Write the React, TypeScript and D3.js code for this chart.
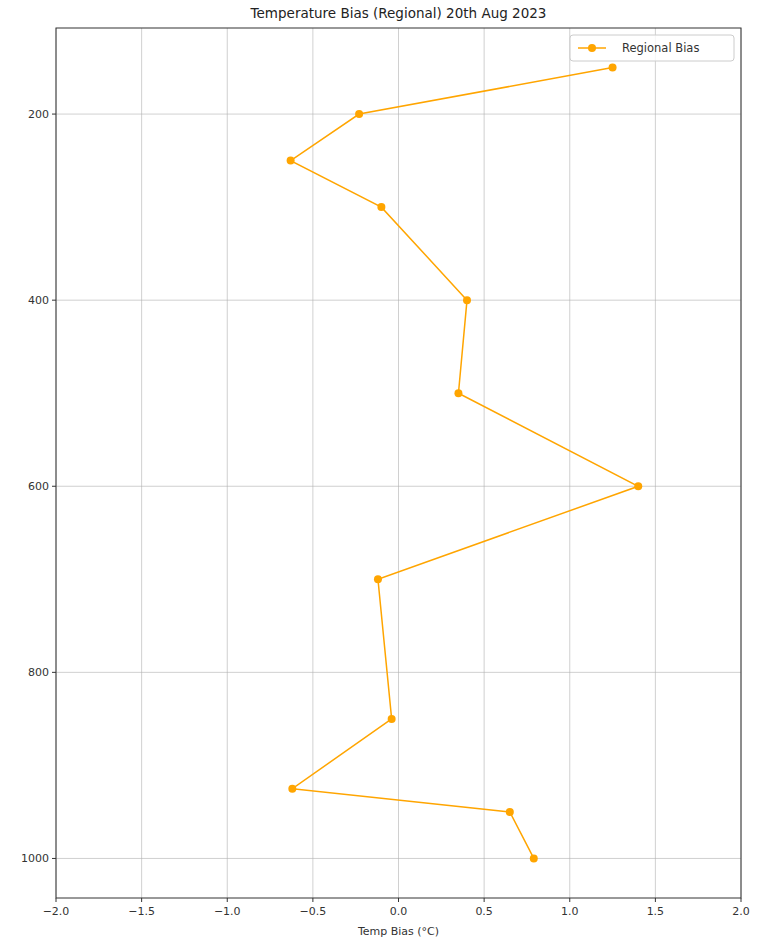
import * as d3 from "d3";

const pressure = [150, 200, 250, 300, 400, 500, 600, 700, 850, 925, 950, 1000];
const bias = [1.25, -0.23, -0.63, -0.1, 0.4, 0.35, 1.4, -0.12, -0.04, -0.62, 0.65, 0.79];
const xTicks = [-2.0, -1.5, -1.0, -0.5, 0.0, 0.5, 1.0, 1.5, 2.0];
const yTicks = [200, 400, 600, 800, 1000];

const W = 757;
const H = 943;
const left = 56;
const right = 741;
const top = 28;
const bottom = 898;
const font = "DejaVu Sans, sans-serif";
const color = "orange";

export default function App() {
  const x = d3.scaleLinear().domain([-2, 2]).range([left, right]);
  // inverted pressure axis with matplotlib-style 5% padding
  const y = d3.scaleLinear().domain([107.5, 1042.5]).range([top, bottom]);

  const pts: [number, number][] = pressure.map((p, i) => [bias[i], p]);
  const line = d3
    .line<[number, number]>()
    .x(d => x(d[0]))
    .y(d => y(d[1]));

  return (
    <svg width={W} height={H} style={{ position: "absolute", left: 0, top: 0, background: "white" }}>
      <rect width={W} height={H} fill="white" />
      <text x={(left + right) / 2} y={18} textAnchor="middle" fontFamily={font} fontSize={13.5} fill="#222">
        Temperature Bias (Regional) 20th Aug 2023
      </text>

      {/* grid */}
      <g stroke="#b0b0b0" strokeOpacity={0.6} strokeWidth={1}>
        {xTicks.map(t => (
          <line key={"gx" + t} x1={x(t)} x2={x(t)} y1={top} y2={bottom} />
        ))}
        {yTicks.map(t => (
          <line key={"gy" + t} x1={left} x2={right} y1={y(t)} y2={y(t)} />
        ))}
      </g>

      {/* axes ticks */}
      <g fontFamily={font} fontSize={11} fill="#333">
        {xTicks.map(t => (
          <g key={"xt" + t}>
            <line x1={x(t)} x2={x(t)} y1={bottom} y2={bottom + 4} stroke="#333" />
            <text x={x(t)} y={bottom + 17} textAnchor="middle">
              {t.toFixed(1).replace("-", "\u2212")}
            </text>
          </g>
        ))}
        {yTicks.map(t => (
          <g key={"yt" + t}>
            <line x1={left - 4} x2={left} y1={y(t)} y2={y(t)} stroke="#333" />
            <text x={left - 7} y={y(t) + 4} textAnchor="end">
              {t}
            </text>
          </g>
        ))}
        <text x={(left + right) / 2} y={935} textAnchor="middle">
          Temp Bias (°C)
        </text>
      </g>

      {/* frame */}
      <rect x={left} y={top} width={right - left} height={bottom - top} fill="none" stroke="#333" strokeWidth={1} />

      {/* series */}
      <path d={line(pts) || undefined} fill="none" stroke={color} strokeWidth={1.5} />
      <g fill={color}>
        {pts.map((d, i) => (
          <circle key={i} cx={x(d[0])} cy={y(d[1])} r={4} />
        ))}
      </g>

      {/* legend */}
      <g>
        <rect x={570} y={35} width={164} height={26} rx={3} fill="white" fillOpacity={0.8} stroke="#ccc" />
        <line x1={578} x2={606} y1={48} y2={48} stroke={color} strokeWidth={1.5} />
        <circle cx={592} cy={48} r={4} fill={color} />
        <text x={622} y={52} fontFamily={font} fontSize={11.5} fill="#333">
          Regional Bias
        </text>
      </g>
    </svg>
  );
}
